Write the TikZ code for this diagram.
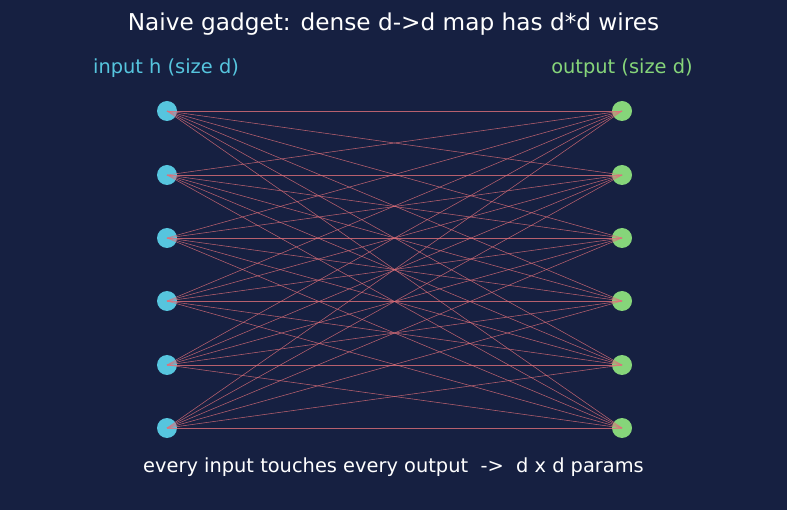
\documentclass[tikz,border=0pt]{standalone}
\usepackage{fontspec}
\setmainfont{DejaVu Sans}
\definecolor{bg}{HTML}{162041}
\definecolor{incol}{HTML}{56C5DE}
\definecolor{outcol}{HTML}{86D57A}
\definecolor{wire}{HTML}{E0707A}
\tikzset{
  innode/.style={circle,fill=incol,draw=none,minimum size=20pt,inner sep=0pt},
  outnode/.style={circle,fill=outcol,draw=none,minimum size=20pt,inner sep=0pt},
  wireline/.style={draw=wire,line width=0.55pt,opacity=0.8},
  lbl/.style={inner sep=0pt,font=\fontsize{19.4pt}{22pt}\selectfont}
}
\begin{document}
\begin{tikzpicture}[x=1pt,y=-1pt]
\fill[bg] (0,0) rectangle (787,510);
\useasboundingbox (0,0) rectangle (787,510);
\node[lbl,text=white,font=\fontsize{23.2pt}{26pt}\selectfont] (title) at (393.5,24) {Naive gadget: dense d->d map has d*d wires};
\node[lbl,text=incol] (inlbl) at (166,68) {input h (size d)};
\node[lbl,text=outcol] (outlbl) at (622,68) {output (size d)};
\node[lbl,text=white] (foot) at (393.5,467) {every input touches every output\ \ ->\ \ d x d params};
\foreach \i/\y in {1/111,2/175,3/238,4/301,5/365,6/428}{
  \node[innode] (i\i) at (167,\y) {};
  \node[outnode] (o\i) at (622,\y) {};
}
\foreach \i in {1,...,6}{
  \foreach \j in {1,...,6}{
    \draw[wireline] (i\i.center) -- (o\j.center);
  }
}
\end{tikzpicture}
\end{document}
